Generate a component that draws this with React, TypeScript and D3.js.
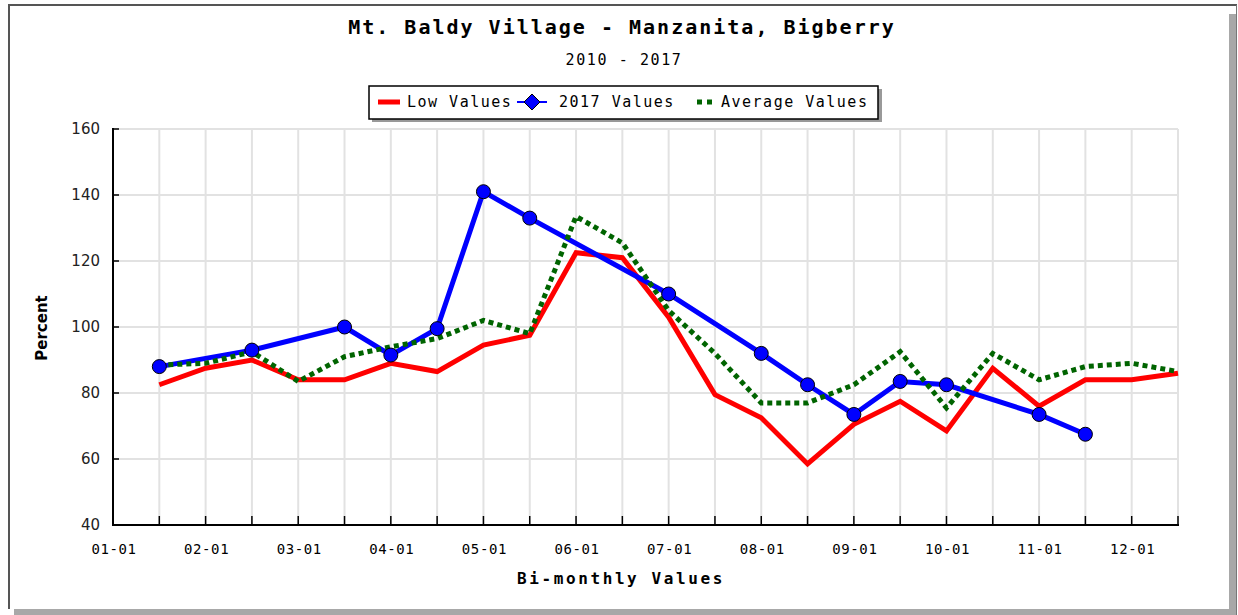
import React from 'react';
import * as d3 from 'd3';

// half-month slots along the x axis
const dates = [
  '01-01', '01-15', '02-01', '02-15', '03-01', '03-15', '04-01', '04-15',
  '05-01', '05-15', '06-01', '06-15', '07-01', '07-15', '08-01', '08-15',
  '09-01', '09-15', '10-01', '10-15', '11-01', '11-15', '12-01', '12-15',
];
const tickLabels = ['01-01', '02-01', '03-01', '04-01', '05-01', '06-01', '07-01', '08-01', '09-01', '10-01', '11-01', '12-01'];
const yTicks = [40, 60, 80, 100, 120, 140, 160];

const lowValues = [null, 82.5, 87.5, 90, 84, 84, 89, 86.5, 94.5, 97.5, 122.5, 121, 103, 79.5, 72.5, 58.5, 70.5, 77.5, 68.5, 87.5, 76, 84, 84, 86];
const values2017 = [null, 88, null, 93, null, 100, 91.5, 99.5, 141, 133, null, null, 110, null, 92, 82.5, 73.5, 83.5, 82.5, null, 73.5, 67.5, null, null];
const avgValues = [null, 88.5, 89, 92.5, 83.5, 91, 94, 96.5, 102, 98, 133.5, 125.5, 105, 92, 77, 77, 82.5, 92.5, 75.5, 92, 84, 88, 89, 86.5];

const W = 1238;
const H = 615;
const margin = { top: 129, right: 60, bottom: 90, left: 113 };

const mono = '"DejaVu Sans Mono", monospace';
const sans = '"DejaVu Sans", sans-serif';

type Pt = { d: string; v: number };
const toPoints = (vals: (number | null)[]): Pt[] =>
  vals.map((v, i) => ({ d: dates[i], v })).filter(p => p.v !== null) as Pt[];

const App = () => {
  const x = d3.scalePoint<string>().domain(dates).range([margin.left, W - margin.right]);
  const y = d3.scaleLinear().domain([40, 160]).range([H - margin.bottom, margin.top]);

  const line = d3.line<Pt>().x(p => x(p.d) as number).y(p => y(p.v));

  const lowPts = toPoints(lowValues);
  const pts2017 = toPoints(values2017);
  const avgPts = toPoints(avgValues);

  const x0 = margin.left;
  const x1 = W - margin.right;
  const y0 = H - margin.bottom;
  const y1 = margin.top;

  return (
    <div style={{ position: 'absolute', left: 0, top: 0 }}>
      <svg width={W} height={H} style={{ display: 'block' }}>
        {/* frame + shadow */}
        <rect x={0} y={0} width={W} height={H} fill="#fff" />
        <rect x={1229} y={14} width={8} height={600} fill="#a8a8a8" />
        <rect x={14} y={609} width={1223} height={6} fill="#a8a8a8" />
        <line x1={8} y1={5} x2={1237} y2={5} stroke="#555" strokeWidth={2} />
        <line x1={9} y1={5} x2={9} y2={609} stroke="#555" strokeWidth={2} />
        <line x1={1236.5} y1={5} x2={1236.5} y2={615} stroke="#777" strokeWidth={1} />

        {/* titles */}
        <text x={622} y={27} textAnchor="middle" dominantBaseline="central" fontFamily={mono} fontWeight="bold" fontSize={20} letterSpacing={2} fill="#000">
          Mt. Baldy Village - Manzanita, Bigberry
        </text>
        <text x={624} y={60} textAnchor="middle" dominantBaseline="central" fontFamily={mono} fontSize={15} letterSpacing={1.6} fill="#000">
          2010 - 2017
        </text>

        {/* grid */}
        {yTicks.map(t => (
          <line key={'gy' + t} x1={x0} x2={x1} y1={y(t)} y2={y(t)} stroke="#e2e2e2" strokeWidth={2} />
        ))}
        {dates.map(d => (
          <line key={'gx' + d} x1={x(d)} x2={x(d)} y1={y1} y2={y0} stroke="#e2e2e2" strokeWidth={2} />
        ))}

        {/* axes */}
        <line x1={x0} x2={x0} y1={y1 - 1} y2={y0 + 1} stroke="#000" strokeWidth={2} />
        <line x1={x0 - 1} x2={x1 + 1} y1={y0} y2={y0} stroke="#000" strokeWidth={2} />
        {yTicks.map(t => (
          <g key={'yt' + t}>
            <line x1={x0} x2={x0 + 6} y1={y(t)} y2={y(t)} stroke="#000" strokeWidth={1.5} />
            <text x={100} y={y(t)} textAnchor="end" dominantBaseline="central" fontFamily={sans} fontSize={15} fill="#222">
              {t}
            </text>
          </g>
        ))}
        {dates.map(d => (
          <line key={'xt' + d} x1={x(d)} x2={x(d)} y1={y0} y2={y0 - 9} stroke="#000" strokeWidth={1.5} />
        ))}
        {tickLabels.map(l => (
          <text key={'xl' + l} x={(x(l) as number) + 1} y={549} textAnchor="middle" dominantBaseline="central" fontFamily={mono} fontSize={14} letterSpacing={0.6} fill="#000">
            {l}
          </text>
        ))}
        <text x={621} y={578} textAnchor="middle" dominantBaseline="central" fontFamily={mono} fontWeight="bold" fontSize={16} letterSpacing={2.6} fill="#000">
          Bi-monthly Values
        </text>
        <text transform="translate(42,328) rotate(-90)" textAnchor="middle" dominantBaseline="central" fontFamily={sans} fontWeight="bold" fontSize={15} fill="#000">
          Percent
        </text>

        {/* series */}
        <path d={line(lowPts) || ''} fill="none" stroke="#ff0000" strokeWidth={5} strokeLinejoin="miter" />
        <path d={line(pts2017) || ''} fill="none" stroke="#0000ff" strokeWidth={5} />
        <path d={line(avgPts) || ''} fill="none" stroke="#006400" strokeWidth={5} strokeDasharray="5 4" />
        {pts2017.map(p => (
          <circle key={'m' + p.d} cx={x(p.d)} cy={y(p.v)} r={7} fill="#0000ff" stroke="#000" strokeWidth={1} />
        ))}

        {/* legend */}
        <rect x={372} y={89} width={510} height={33} fill="#999" />
        <rect x={369} y={86} width={509} height={33} fill="#fff" stroke="#000" strokeWidth={1.5} />
        <line x1={378} x2={400} y1={102} y2={102} stroke="#ff0000" strokeWidth={5} />
        <text x={407} y={102} dominantBaseline="central" fontFamily={mono} fontSize={15} letterSpacing={1.5} fill="#000">Low Values</text>
        <line x1={517} x2={547} y1={102} y2={102} stroke="#0000ff" strokeWidth={2} />
        <path d="M532,94 L540,102 L532,110 L524,102 Z" fill="#0000ff" stroke="#000" strokeWidth={1} />
        <text x={559} y={102} dominantBaseline="central" fontFamily={mono} fontSize={15} letterSpacing={1.5} fill="#000">2017 Values</text>
        <line x1={697} x2={714} y1={102} y2={102} stroke="#006400" strokeWidth={5} strokeDasharray="5 5" />
        <text x={721} y={102} dominantBaseline="central" fontFamily={mono} fontSize={15} letterSpacing={1.5} fill="#000">Average Values</text>
      </svg>
    </div>
  );
};

export default App;
